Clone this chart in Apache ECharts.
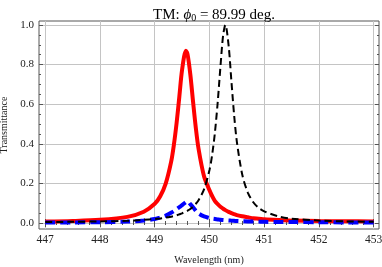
<!DOCTYPE html>
<html>
<head>
<meta charset="utf-8">
<script src="https://cdn.jsdelivr.net/npm/echarts@6/dist/echarts.min.js"></script>
<style>html,body{margin:0;padding:0;background:#fff}#c{width:382px;height:267px}</style>
</head>
<body>
<div id="c"></div>
<script>
var wavelength = [447, 447.5, 448, 448.5, 448.8, 449, 449.1, 449.2, 449.3, 449.35, 449.4, 449.45, 449.5, 449.57, 449.6, 449.65, 449.7, 449.75, 449.8, 449.9, 450, 450.05, 450.1, 450.15, 450.2, 450.25, 450.29, 450.35, 450.4, 450.45, 450.5, 450.6, 450.7, 450.8, 450.9, 451, 451.25, 451.5, 452, 452.5, 453];
var redT = [0.007, 0.010, 0.016, 0.031, 0.057, 0.097, 0.135, 0.199, 0.31, 0.396, 0.507, 0.64, 0.775, 0.87, 0.851, 0.75, 0.612, 0.481, 0.375, 0.236, 0.165, 0.135, 0.11, 0.095, 0.082, 0.072, 0.065, 0.056, 0.05, 0.045, 0.04, 0.034, 0.029, 0.024, 0.022, 0.019, 0.015, 0.012, 0.010, 0.009, 0.008];
var blackT = [0.005, 0.006, 0.008, 0.011, 0.016, 0.02, 0.023, 0.027, 0.032, 0.035, 0.039, 0.044, 0.049, 0.058, 0.062, 0.071, 0.083, 0.097, 0.115, 0.17, 0.268, 0.347, 0.459, 0.61, 0.79, 0.95, 1.0, 0.894, 0.717, 0.545, 0.41, 0.242, 0.154, 0.105, 0.076, 0.059, 0.034, 0.022, 0.012, 0.008, 0.006];
var blueT = [0.002, 0.003, 0.004, 0.007, 0.013, 0.02, 0.028, 0.037, 0.052, 0.06, 0.07, 0.08, 0.09, 0.106, 0.11, 0.095, 0.08, 0.062, 0.048, 0.033, 0.025, 0.022, 0.02, 0.018, 0.016, 0.015, 0.014, 0.013, 0.012, 0.011, 0.01, 0.009, 0.008, 0.008, 0.007, 0.006, 0.005, 0.005, 0.004, 0.003, 0.003];
var xTicks = [447, 448, 449, 450, 451, 452, 453];
var yTicks = [0, 0.2, 0.4, 0.6, 0.8, 1.0];

var xMinor = [];
for (var i = 0; i <= 30; i++) xMinor.push(+(447 + i * 0.2).toFixed(2));
var yMinor = [];
for (var j = 0; j <= 20; j++) yMinor.push(+(j * 0.05).toFixed(2));

var FONT = 'Liberation Serif';
var XMIN = 446.886, XMAX = 453.096, YMIN = -0.0303, YMAX = 1.0202;
var frameColor = '#555';

function xAx(pos, ticks, len, labels, split) {
  return {
    type: 'value', position: pos, min: XMIN, max: XMAX,
    axisLine: { show: false },
    axisTick: { show: true, inside: true, length: len, customValues: ticks, lineStyle: { color: frameColor, width: 1 } },
    axisLabel: labels ? { show: true, customValues: ticks, fontFamily: FONT, fontSize: 11.5, color: '#222', margin: 5, formatter: function (v) { return String(Math.round(v)); } } : { show: false },
    splitLine: { show: !!split, lineStyle: { color: '#c4c4c4', width: 1 } },
    name: labels ? 'Wavelength (nm)' : '',
    nameLocation: 'middle', nameGap: 26,
    nameTextStyle: { fontFamily: FONT, fontSize: 10, color: '#222' }
  };
}
function yAx(pos, ticks, len, labels, split) {
  return {
    type: 'value', position: pos, min: YMIN, max: YMAX,
    axisLine: { show: false },
    axisTick: { show: true, inside: true, length: len, customValues: ticks, lineStyle: { color: frameColor, width: 1 } },
    axisLabel: labels ? { show: true, customValues: ticks, fontFamily: FONT, fontSize: 11, color: '#222', margin: 5, formatter: function (v) { return v.toFixed(1); } } : { show: false },
    splitLine: { show: !!split, lineStyle: { color: '#c4c4c4', width: 1 } },
    name: labels ? 'Transmittance' : '',
    nameLocation: 'middle', nameGap: 23, nameRotate: 90,
    nameTextStyle: { fontFamily: FONT, fontSize: 10, color: '#222' }
  };
}

function pairs(ys) { return wavelength.map(function (x, k) { return [x, ys[k]]; }); }

var chart = echarts.init(document.getElementById('c'), null, { renderer: 'canvas' });
chart.setOption({
  animation: false,
  backgroundColor: '#fff',
  title: {
    text: '{n|TM: }{i|ϕ}{s|0}{n| = 89.99 deg.}',
    left: 209, top: 2, textAlign: 'center',
    textStyle: {
      fontWeight: 'normal',
      rich: {
        n: { fontFamily: FONT, fontSize: 15, fontWeight: 'normal', color: '#000', lineHeight: 16 },
        i: { fontFamily: FONT, fontSize: 15, fontWeight: 'normal', fontStyle: 'italic', color: '#000', lineHeight: 16 },
        s: { fontFamily: FONT, fontSize: 10, fontWeight: 'normal', color: '#000', lineHeight: 16, padding: [7, 0, 0, 0] }
      }
    }
  },
  grid: { left: 39, right: 3, top: 21, bottom: 38, show: true, borderColor: frameColor, borderWidth: 1, backgroundColor: 'transparent', containLabel: false, outerBoundsMode: 'none' },
  xAxis: [
    xAx('bottom', xTicks, 4, true, true),
    xAx('bottom', xMinor, 2, false, false),
    xAx('top', xTicks, 4, false, false),
    xAx('top', xMinor, 2, false, false)
  ],
  yAxis: [
    yAx('left', yTicks, 4, true, true),
    yAx('left', yMinor, 2, false, false),
    yAx('right', yTicks, 4, false, false),
    yAx('right', yMinor, 2, false, false)
  ],
  series: [
    { type: 'line', name: 'red', xAxisIndex: 0, yAxisIndex: 0, data: pairs(redT), smooth: 0.3, showSymbol: false, lineStyle: { color: '#ff0000', width: 4 }, z: 3 },
    { type: 'line', name: 'blue', xAxisIndex: 0, yAxisIndex: 0, data: pairs(blueT), smooth: 0.3, showSymbol: false, lineStyle: { color: '#0000ff', width: 4, type: [10, 5] }, z: 4 },
    { type: 'line', name: 'black', xAxisIndex: 0, yAxisIndex: 0, data: pairs(blackT), smooth: 0.3, showSymbol: false, lineStyle: { color: '#000', width: 2, type: [7, 4] }, z: 5 }
  ]
});
</script>
</body>
</html>
